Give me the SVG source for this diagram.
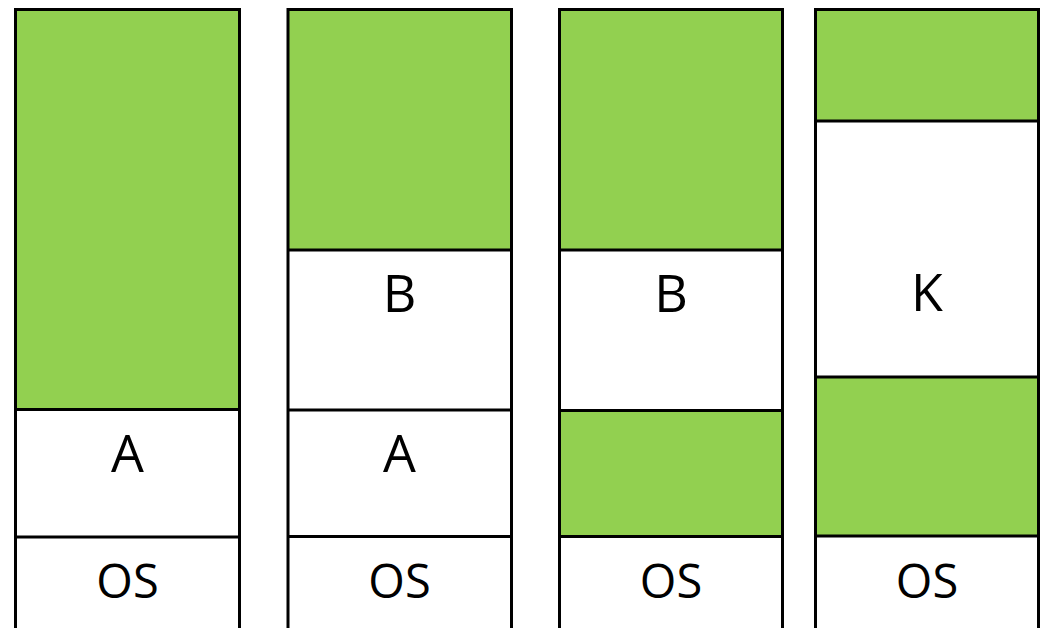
<svg xmlns="http://www.w3.org/2000/svg" width="1041" height="628" viewBox="0 0 1041 628">
<style>
.g{fill:#92d050;stroke:none}
.ln{stroke:#000;stroke-width:3;fill:none}
.t{font-family:"Open Sans","Liberation Sans",sans-serif;font-size:52px;fill:#000;text-anchor:middle}
.os{font-size:47px}
</style>
<rect width="1041" height="628" fill="#fff"/>
<g id="col1">
<rect class="g" x="15.5" y="9.5" width="224" height="400"/>
<path class="ln" d="M15.5 628V9.5H239.5V628M15.5 409.5H239.5M15.5 537H239.5"/>
<text class="t" x="127.5" y="472">A</text>
<text class="t os" x="127.5" y="598">OS</text>
</g>
<g id="col2">
<rect class="g" x="288" y="9.5" width="224" height="240.5"/>
<path class="ln" d="M288 628V9.5H511.5V628M288 250H511.5M288 410H511.5M288 536.5H511.5"/>
<text class="t" x="399.5" y="312">B</text>
<text class="t" x="399.5" y="472">A</text>
<text class="t os" x="399.5" y="598">OS</text>
</g>
<g id="col3">
<rect class="g" x="559.5" y="9.5" width="223" height="240.5"/>
<rect class="g" x="559.5" y="410.5" width="223" height="126"/>
<path class="ln" d="M559.5 628V9.5H782.5V628M559.5 250H782.5M559.5 410.5H782.5M559.5 536.5H782.5"/>
<text class="t" x="671" y="312">B</text>
<text class="t os" x="671" y="598">OS</text>
</g>
<g id="col4">
<rect class="g" x="815.5" y="9.5" width="223" height="111.5"/>
<rect class="g" x="815.5" y="377" width="223" height="159"/>
<path class="ln" d="M815.5 628V9.5H1038.5V628M815.5 121H1038.5M815.5 377H1038.5M815.5 536H1038.5"/>
<text class="t" x="927" y="311">K</text>
<text class="t os" x="927" y="598">OS</text>
</g>
</svg>
